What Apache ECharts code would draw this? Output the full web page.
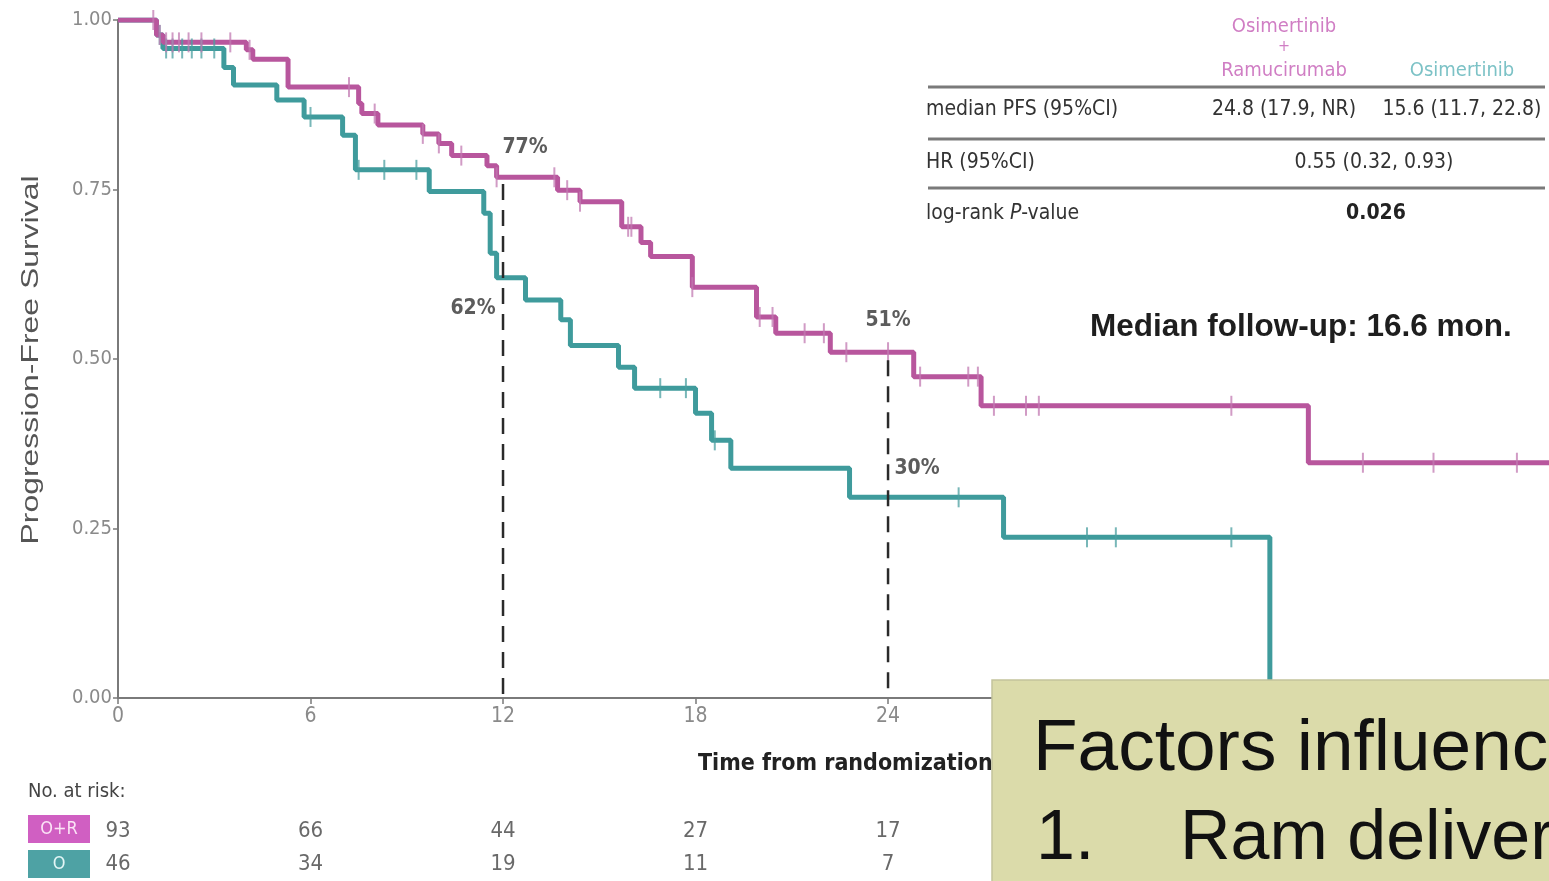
<!DOCTYPE html>
<html>
<head>
<meta charset="utf-8">
<script src="https://cdn.jsdelivr.net/npm/echarts@6/dist/echarts.min.js"></script>
<style>
  html, body { margin: 0; padding: 0; background: #fff; }
  #chart { width: 1549px; height: 881px; }
</style>
</head>
<body>
<div id="chart"></div>
<script>
// Kaplan-Meier steps: [month, survival after the event]
const orSteps = [
  [0, 1.0], [1.2, 0.978], [1.4, 0.967], [4.0, 0.956], [4.2, 0.942], [5.3, 0.901],
  [7.5, 0.877], [7.6, 0.862], [8.1, 0.845], [9.5, 0.832], [10.0, 0.818], [10.4, 0.80],
  [11.5, 0.785], [11.8, 0.768], [13.7, 0.749], [14.4, 0.732], [15.7, 0.695], [16.3, 0.672],
  [16.6, 0.651], [17.9, 0.606], [19.9, 0.562], [20.5, 0.538], [22.2, 0.51], [24.8, 0.474],
  [26.9, 0.431], [37.1, 0.347], [44.6, 0.347]
];
const oSteps = [
  [0, 1.0], [1.2, 0.978], [1.4, 0.958], [3.3, 0.93], [3.6, 0.904], [4.95, 0.882],
  [5.8, 0.857], [7.0, 0.83], [7.4, 0.779], [9.7, 0.747], [11.4, 0.715], [11.6, 0.656],
  [11.8, 0.62], [12.7, 0.587], [13.8, 0.558], [14.1, 0.52], [15.6, 0.488], [16.1, 0.457],
  [18.0, 0.42], [18.5, 0.38], [19.1, 0.339], [22.8, 0.296], [27.6, 0.237], [35.9, 0.0]
];
// censoring times (months)
const orCensor = [1.1, 1.3, 1.5, 1.7, 1.9, 2.2, 2.6, 3.5, 4.1, 7.2, 8.0, 9.5, 10.0, 10.7, 11.8,
  13.6, 14.0, 14.4, 15.9, 16.0, 17.9, 20.0, 20.4, 21.4, 22.0, 22.7, 24.0, 25.0, 26.5, 26.8,
  27.3, 28.3, 28.7, 34.7, 38.8, 41.0, 43.6];
const oCensor = [1.3, 1.5, 1.7, 2.0, 2.3, 2.6, 3.0, 6.0, 7.5, 8.3, 9.3, 16.9, 17.7, 18.6,
  26.2, 30.2, 31.1, 34.7];
// landmark rates
const landmarkMonths = [12, 24];
const orLandmark = [0.77, 0.51];
const oLandmark = [0.62, 0.30];
// numbers at risk
const riskMonths = [0, 6, 12, 18, 24];
const orRisk = [93, 66, 44, 27, 17];
const oRisk = [46, 34, 19, 11, 7];

const C_OR = '#b8569d';
const C_O = '#3f9b9c';
const NARROW = "'Liberation Sans Narrow', 'DejaVu Sans Condensed', 'Arial Narrow', sans-serif";
const ARIAL = "'Liberation Sans', Arial, sans-serif";

function survivalAt(steps, t) {
  let s = steps[0][1];
  for (const [m, v] of steps) { if (m <= t) s = v; else break; }
  return s;
}

const chart = echarts.init(document.getElementById('chart'));

const censorStyle = (color) => ({
  type: 'scatter', symbol: 'rect', symbolSize: [2, 20], silent: true,
  itemStyle: { color: color, opacity: 0.75 }, z: 4
});

function landmarkLabel(t, v, offset) {
  return {
    value: [t, v],
    label: { show: true, formatter: Math.round(v * 100) + '%', offset: offset }
  };
}

const txt = (x, y, text, fill, font, align, extra) => Object.assign({
  type: 'text', x: x, y: y,
  style: { text: text, fill: fill, font: font, align: align || 'left', verticalAlign: 'middle' }
}, extra || {});

const option = {
  animation: false,
  backgroundColor: '#fff',
  grid: [
    { left: 118, top: 20, width: 1431, height: 678 },
    { left: 118, top: 815, width: 1431, height: 66 }
  ],
  xAxis: [
    {
      type: 'value', min: 0, max: 44.6, interval: 6, gridIndex: 0,
      axisLine: { lineStyle: { color: '#7a7a7a', width: 2 } },
      axisTick: { show: true, length: 6, lineStyle: { color: '#7a7a7a', width: 1.5 } },
      axisLabel: { color: '#8a8a8a', fontSize: 21, fontFamily: NARROW, margin: 8, showMaxLabel: false },
      splitLine: { show: false }
    },
    { type: 'value', min: 0, max: 44.6, gridIndex: 1, show: false }
  ],
  yAxis: [
    {
      type: 'value', min: 0, max: 1, interval: 0.25, gridIndex: 0,
      axisLine: { show: true, lineStyle: { color: '#7a7a7a', width: 2 } },
      axisTick: { show: true, length: 5, lineStyle: { color: '#7a7a7a', width: 1.5 } },
      axisLabel: { color: '#8a8a8a', fontSize: 20, fontFamily: NARROW, margin: 6,
        formatter: (v) => v.toFixed(2) },
      splitLine: { show: false }
    },
    { type: 'category', data: ['O', 'O+R'], gridIndex: 1, show: false }
  ],
  series: [
    {
      name: 'O', type: 'line', step: 'end', data: oSteps, showSymbol: false, symbol: 'none',
      lineStyle: { color: C_O, width: 5 }, z: 3
    },
    {
      name: 'O+R', type: 'line', step: 'end', data: orSteps, showSymbol: false, symbol: 'none',
      lineStyle: { color: C_OR, width: 5 }, z: 3
    },
    Object.assign(censorStyle('#4b9fa0'), { data: oCensor.map(t => [t, survivalAt(oSteps, t)]) }),
    Object.assign(censorStyle('#c27ab1'), { data: orCensor.map(t => [t, survivalAt(orSteps, t)]) }),
    // landmark dashed verticals
    ...landmarkMonths.map((m, i) => ({
      type: 'line', data: [[m, Math.max(orLandmark[i], oLandmark[i]) - 0.012], [m, 0]],
      symbol: 'none', silent: true, z: 5,
      lineStyle: { color: '#2a2a2a', width: 2.5, type: [16, 10] }
    })),
    // landmark rate labels
    {
      type: 'scatter', symbolSize: 0, silent: true, z: 6,
      label: { color: '#333', fontSize: 21, fontWeight: 'bold', fontFamily: NARROW, position: 'inside' },
      data: [
        landmarkLabel(landmarkMonths[0], orLandmark[0], [22, -28]),
        landmarkLabel(landmarkMonths[0], oLandmark[0], [-30, 31]),
        landmarkLabel(landmarkMonths[1], orLandmark[1], [0, -32]),
        landmarkLabel(landmarkMonths[1], oLandmark[1], [29, -26])
      ]
    },
    // numbers at risk
    {
      type: 'scatter', xAxisIndex: 1, yAxisIndex: 1, symbolSize: 0, silent: true,
      label: { show: true, position: 'inside', formatter: (p) => p.value[2],
        color: '#444', fontSize: 22, fontFamily: NARROW },
      data: riskMonths.map((m, i) => [m, 'O+R', orRisk[i]])
        .concat(riskMonths.map((m, i) => [m, 'O', oRisk[i]]))
    }
  ],
  graphic: [
    // y-axis title, stretched along its length
    txt(0, 0, 'Progression-Free Survival', '#555', '24px ' + ARIAL, 'center',
      { x: 31, y: 360, rotation: Math.PI / 2, scaleX: 1.33, scaleY: 1 }),
    txt(698, 764, 'Time from randomization [months]', '#222', 'bold 23px ' + NARROW),
    txt(28, 792, 'No. at risk:', '#444', '20px ' + NARROW),
    { type: 'rect', shape: { x: 28, y: 815, width: 62, height: 28 }, style: { fill: '#d05fc2' } },
    txt(59, 829, 'O+R', '#fbe3f6', '18px ' + NARROW, 'center'),
    { type: 'rect', shape: { x: 28, y: 850, width: 62, height: 28 }, style: { fill: '#4ea2a4' } },
    txt(59, 864, 'O', '#e3f6f6', '18px ' + NARROW, 'center'),

    // summary table
    txt(1284, 27, 'Osimertinib', '#d07ec4', '20px ' + NARROW, 'center'),
    txt(1284, 47, '+', '#d07ec4', '16px ' + NARROW, 'center'),
    txt(1284, 71, 'Ramucirumab', '#d07ec4', '20px ' + NARROW, 'center'),
    txt(1462, 71, 'Osimertinib', '#7cc2c6', '20px ' + NARROW, 'center'),
    { type: 'line', shape: { x1: 928, y1: 87, x2: 1545, y2: 87 }, style: { stroke: '#7a7a7a', lineWidth: 3 } },
    { type: 'line', shape: { x1: 928, y1: 139, x2: 1545, y2: 139 }, style: { stroke: '#7a7a7a', lineWidth: 3 } },
    { type: 'line', shape: { x1: 928, y1: 188, x2: 1545, y2: 188 }, style: { stroke: '#7a7a7a', lineWidth: 3 } },
    txt(926, 110, 'median PFS (95%CI)', '#333', '21px ' + NARROW),
    txt(1284, 110, '24.8 (17.9, NR)', '#333', '21px ' + NARROW, 'center'),
    txt(1462, 110, '15.6 (11.7, 22.8)', '#333', '21px ' + NARROW, 'center'),
    txt(926, 163, 'HR (95%CI)', '#333', '21px ' + NARROW),
    txt(1374, 163, '0.55 (0.32, 0.93)', '#333', '21px ' + NARROW, 'center'),
    { type: 'text', x: 926, y: 214, style: {
      rich: { a: { fill: '#333', font: '21px ' + NARROW }, b: { fill: '#333', font: 'italic 21px ' + NARROW } },
      text: '{a|log-rank }{b|P}{a|-value}', verticalAlign: 'middle' } },
    txt(1376, 214, '0.026', '#222', 'bold 21px ' + NARROW, 'center'),

    txt(1090, 327, 'Median follow-up: 16.6 mon.', '#1e1e1e', 'bold 31.5px ' + ARIAL),

    // slide caption panel
    { type: 'rect', z: 100, shape: { x: 992, y: 680, width: 560, height: 205 },
      style: { fill: '#dbdbaa', stroke: '#c4c49c', lineWidth: 1.5 } },
    txt(1033, 750, 'Factors influencing', '#111', '73px ' + ARIAL, 'left', { z: 101 }),
    txt(1036, 840, '1.', '#111', '70px ' + ARIAL, 'left', { z: 101 }),
    txt(1180, 840, 'Ram delivery', '#111', '70px ' + ARIAL, 'left', { z: 101 })
  ]
};

chart.setOption(option);
</script>
</body>
</html>
